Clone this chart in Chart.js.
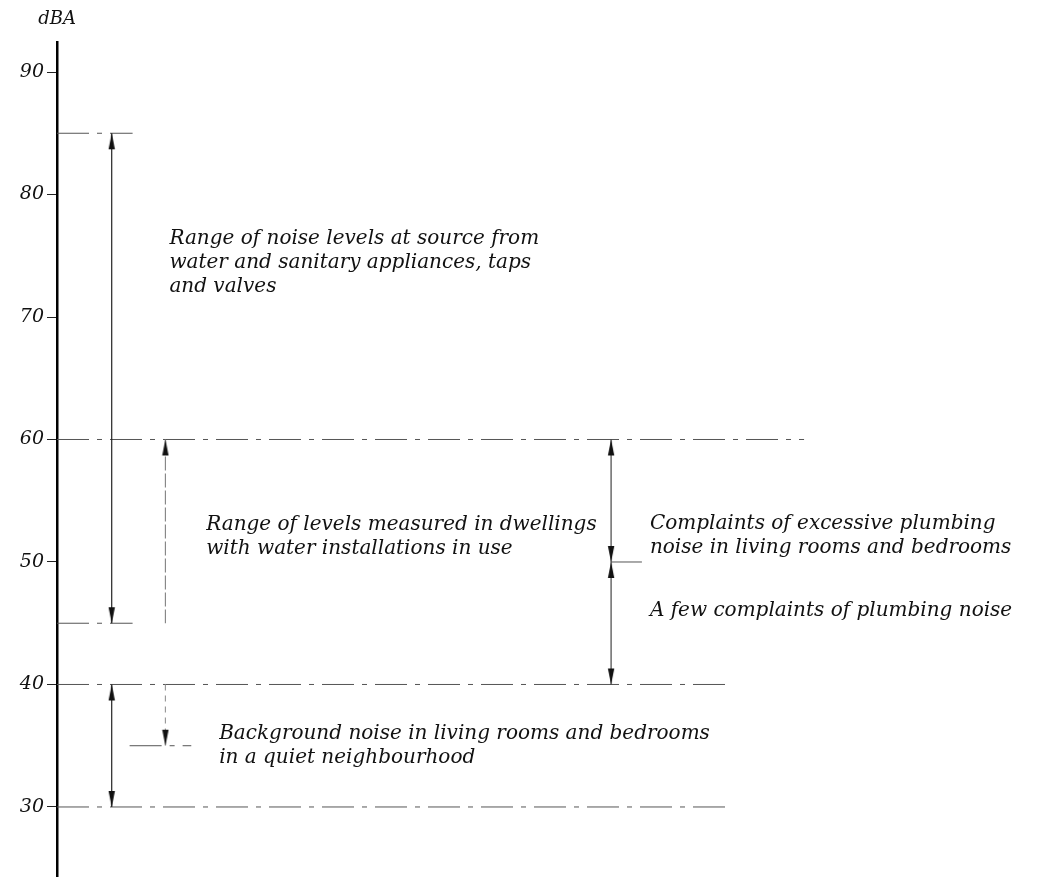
<!DOCTYPE html>
<html>
<head>
<meta charset="utf-8">
<script src="https://cdn.jsdelivr.net/npm/chart.js@4"></script>
<style>
  body { margin: 0; background: #fff; }
  canvas { display: block; }
</style>
</head>
<body>
<canvas id="noiseChart" width="1051" height="882"></canvas>
<script>
// dBA levels
const tickValues = [30, 40, 50, 60, 70, 80, 90];
const sourceRange = [85, 45];        // noise at source from appliances
const dwellingRange = [60, 45];      // levels measured in dwellings
const complaintLevels = [60, 50, 40];
const backgroundRange = [40, 30];
const quietRange = [40, 35];
const guideLevels = [85, 60, 50, 45, 40, 35, 30];

const notes = [
  { level: 76.4, lines: ["Range of noise levels at source from", "water and sanitary appliances, taps", "and valves"] },
  { level: 53.0, lines: ["Range of levels measured in dwellings", "with water installations in use"] },
  { level: 53.1, lines: ["Complaints of excessive plumbing", "noise in living rooms and bedrooms"] },
  { level: 46.0, lines: ["A few complaints of plumbing noise"] },
  { level: 36.0, lines: ["Background noise in living rooms and bedrooms", "in a quiet neighbourhood"] }
];

// layout: horizontal column positions (x units = px right of the axis)
const guideSpan = { 85: [0, 76], 60: [0, 751], 50: [557, 588], 45: [0, 76], 40: [0, 678], 35: [73, 135], 30: [0, 678] };
const noteX = [113, 150, 596, 596, 163];
const colA = 55, colB = 109, colC = 557;

function arrowHead(up) {
  const c = document.createElement("canvas");
  c.width = 8; c.height = 34;
  const g = c.getContext("2d");
  g.fillStyle = "#111";
  g.beginPath();
  if (up) { g.moveTo(4, 17); g.lineTo(0.8, 33); g.lineTo(7.2, 33); }
  else { g.moveTo(4, 17); g.lineTo(0.8, 1); g.lineTo(7.2, 1); }
  g.closePath();
  g.fill();
  return c;
}
const headUp = arrowHead(true);
const headDown = arrowHead(false);

function arrow(x, levels, heads, style) {
  // heads: [top, bottom] booleans
  return {
    data: [{ x: x, y: levels[0] }, { x: x, y: levels[1] }],
    showLine: true,
    borderColor: style.color,
    borderWidth: 1.2,
    borderDash: style.dash || [],
    pointStyle: [heads[0] ? headUp : false, heads[1] ? headDown : false],
    pointRadius: [heads[0] ? 3 : 0, heads[1] ? 3 : 0],
    order: 1
  };
}

const datasets = [];
guideLevels.forEach(function (lv) {
  const span = guideSpan[lv];
  datasets.push({
    data: [{ x: span[0], y: lv }, { x: span[1], y: lv }],
    showLine: true,
    borderColor: "#555",
    borderWidth: 1,
    borderDash: [32, 8, 5, 8],
    pointRadius: 0,
    order: 2
  });
});
datasets.push(arrow(colA, sourceRange, [true, true], { color: "#222" }));
datasets.push(arrow(colB, dwellingRange, [true, false], { color: "#888", dash: [14, 3] }));
datasets.push(arrow(colC, [complaintLevels[0], complaintLevels[1]], [true, true], { color: "#444" }));
datasets.push(arrow(colC, [complaintLevels[1], complaintLevels[2]], [true, true], { color: "#444" }));
datasets.push(arrow(colA, backgroundRange, [true, true], { color: "#222" }));
datasets.push(arrow(colB, quietRange, [false, true], { color: "#999", dash: [6, 5] }));

const textFont = 'italic 20px "DejaVu Serif"';

const notesPlugin = {
  id: "notes",
  afterDraw(chart) {
    const ctx = chart.ctx;
    const xs = chart.scales.x, ys = chart.scales.y;
    ctx.save();
    ctx.font = textFont;
    ctx.fillStyle = "#111";
    ctx.textBaseline = "middle";
    ctx.textAlign = "left";
    notes.forEach(function (n, i) {
      const px = xs.getPixelForValue(noteX[i]);
      const py = ys.getPixelForValue(n.level);
      n.lines.forEach(function (t, j) { ctx.fillText(t, px, py + j * 24); });
    });
    ctx.font = 'italic 18px "DejaVu Serif"';
    ctx.textAlign = "center";
    ctx.fillText("dBA", 57, 19);
    ctx.restore();
  }
};

new Chart(document.getElementById("noiseChart"), {
  type: "scatter",
  data: { datasets: datasets },
  options: {
    responsive: false,
    animation: false,
    events: [],
    layout: { padding: { top: 42, right: 0, bottom: 0, left: 0 } },
    plugins: { legend: { display: false }, tooltip: { enabled: false } },
    scales: {
      x: { type: "linear", min: 0, max: 994, display: false },
      y: {
        type: "linear",
        min: 24.3,
        max: 92.45,
        afterBuildTicks(scale) { scale.ticks = tickValues.map(function (v) { return { value: v }; }); },
        afterFit(scale) {
          scale.width = 57;
          scale.paddingTop = 0;
          scale.paddingBottom = 0;
        },
        border: { display: true, color: "#000", width: 2.5 },
        grid: { drawOnChartArea: false, drawTicks: true, tickLength: 10, color: "#222", lineWidth: 1 },
        ticks: { color: "#111", padding: 3, font: { family: "DejaVu Serif", style: "italic", size: 19 } }
      }
    }
  },
  plugins: [notesPlugin]
});
</script>
</body>
</html>
